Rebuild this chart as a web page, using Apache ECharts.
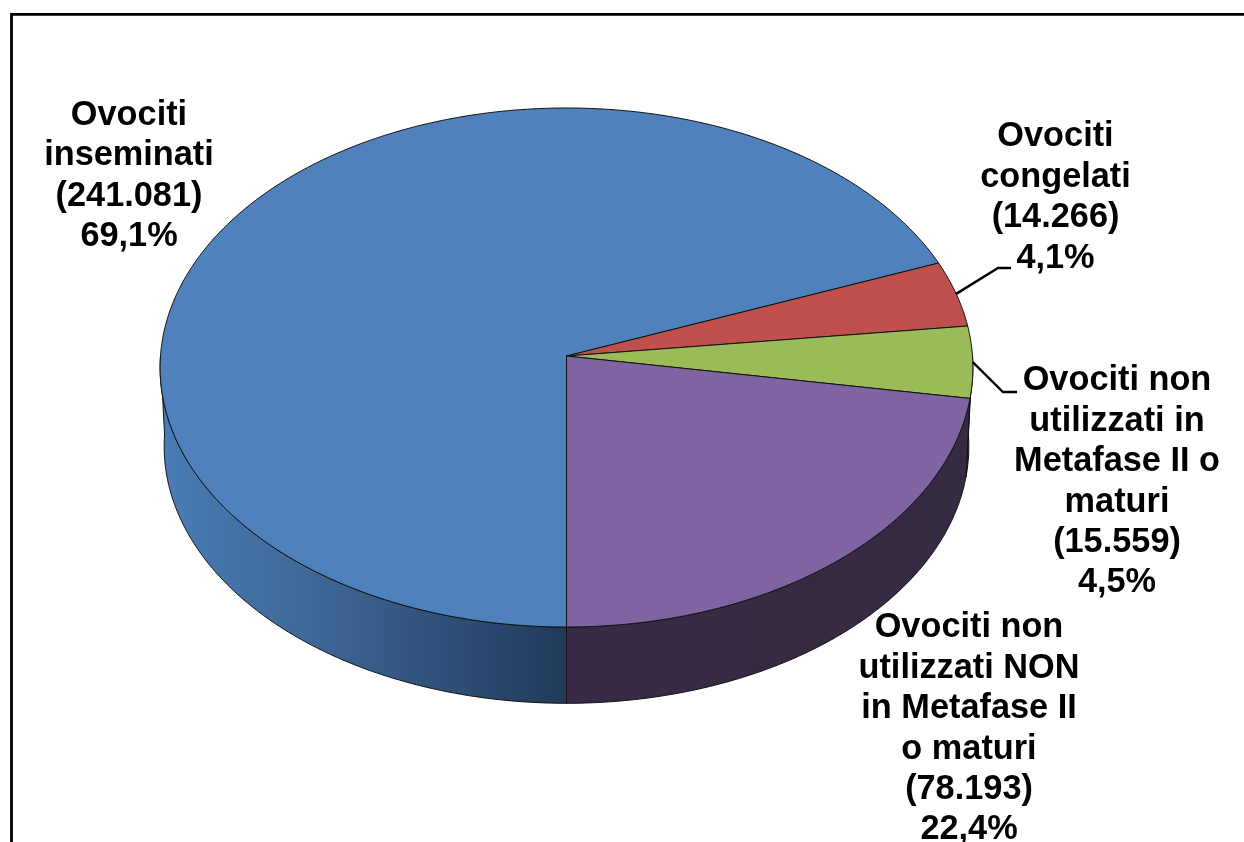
<!DOCTYPE html>
<html>
<head>
<meta charset="utf-8">
<style>html,body{margin:0;padding:0;background:#fff;overflow:hidden}#c{width:1244px;height:842px;filter:blur(0.45px)}</style>
<script src="https://cdn.jsdelivr.net/npm/echarts@6/dist/echarts.min.js"></script>
</head>
<body>
<div id="c"></div>
<script>
var categories = [
  "Ovociti\ninseminati",
  "Ovociti\ncongelati",
  "Ovociti non\nutilizzati in\nMetafase II o\nmaturi",
  "Ovociti non\nutilizzati NON\nin Metafase II\no maturi"
];
var oocytes = [241081, 14266, 15559, 78193];
var faceColors = ["#4F81BD", "#C0504D", "#9BBB59", "#8064A2"];

// tilted-disc projection of the pie
var CX = 566.5, CY = 356, RX = 406, RY = 259, PERSP = -0.0443;
var DEPTH = 79, BOTTOM_SCALE = 0.99, START_DEG = 180;
// label anchors: centre x, centre y of first line; optional leader elbow
var labelCentres = [[129, 115.5], [1055.5, 137], [1117, 381], [969, 628]];
var leaderElbows = [null, [[998, 268], [1011, 268]], [[1003, 392], [1017, 392]], null];
var FONT = 'bold 34.3px "Liberation Sans", Arial, sans-serif', LINE_H = 40.4;

var total = oocytes.reduce(function (a, b) { return a + b; }, 0);
var running = 0;
var rows = oocytes.map(function (v, i) {
  var r = [v, running, running + v, i];
  running += v;
  return r;
});

function project(deg, scale, dy) {
  var t = deg * Math.PI / 180, X = Math.sin(t), Y = -Math.cos(t), w = 1 + PERSP * Y;
  return [CX + scale * RX * X / w, CY + dy + scale * RY * Y / w];
}
function arc(a0, a1, scale, dy) {
  var n = Math.max(2, Math.ceil(Math.abs(a1 - a0) * 2)), pts = [];
  for (var i = 0; i <= n; i++) pts.push(project(a0 + (a1 - a0) * i / n, scale, dy));
  return pts;
}
function toDeg(cum) { return START_DEG + cum / total * 360; }
function fmtCount(v) { return String(v).replace(/\B(?=(\d{3})+$)/g, "."); }
function fmtPct(v) { return (v / total * 100).toFixed(1).replace(".", ",") + "%"; }

var wallFills = [
  { type: "linear", x: 160, y: 0, x2: 566, y2: 0, global: true, colorStops: [
    { offset: 0, color: "#4A7DB6" }, { offset: 0.35, color: "#40699A" },
    { offset: 0.7, color: "#2F5078" }, { offset: 1, color: "#213A5A" }] },
  "#3A3040", "#3A3040",
  { type: "linear", x: 566, y: 0, x2: 970, y2: 0, global: true, colorStops: [
    { offset: 0, color: "#382A45" }, { offset: 1, color: "#352B42" }] }
];
var EDGE = "#111";

// Only the front half of the rim shows: clip each slice's wall to it.
function visibleWall(a0, a1) {
  var ranges = [[90, 270], [450, 630]];
  for (var r = 0; r < ranges.length; r++) {
    var lo = Math.max(a0, ranges[r][0]), hi = Math.min(a1, ranges[r][1]);
    if (hi > lo) return [lo, hi];
  }
  return null;
}
function renderWall(params, api) {
  var i = api.value(3), range = visibleWall(toDeg(api.value(1)), toDeg(api.value(2)));
  if (!range) return null;
  var pts = arc(range[0], range[1], 1, 0).concat(arc(range[1], range[0], BOTTOM_SCALE, DEPTH));
  return { type: "polygon", shape: { points: pts },
    style: { fill: wallFills[i], stroke: EDGE, lineWidth: 1, lineJoin: "round" } };
}
function renderFace(params, api) {
  var a0 = toDeg(api.value(1)), a1 = toDeg(api.value(2)), i = api.value(3);
  var pts = [[CX, CY]].concat(arc(a0, a1, 1, 0));
  return { type: "polygon", shape: { points: pts },
    style: { fill: faceColors[i], stroke: EDGE, lineWidth: 1, lineJoin: "round" } };
}
function renderLabel(params, api) {
  var v = api.value(0), i = api.value(3), kids = [];
  var mid = (toDeg(api.value(1)) + toDeg(api.value(2))) / 2;
  var lines = categories[i].split("\n").concat(["(" + fmtCount(v) + ")", fmtPct(v)]);
  var c = labelCentres[i];
  lines.forEach(function (t, k) {
    kids.push({ type: "text", style: { x: c[0], y: c[1] + k * LINE_H, text: t, font: FONT,
      fill: "#000", align: "center", verticalAlign: "middle" } });
  });
  if (leaderElbows[i]) {
    kids.push({ type: "polyline", shape: { points: [project(mid, 1, 0)].concat(leaderElbows[i]) },
      style: { fill: "none", stroke: "#000", lineWidth: 2.4 } });
  }
  return { type: "group", children: kids };
}

var chart = echarts.init(document.getElementById("c"), null, { renderer: "canvas" });
chart.setOption({
  animation: false,
  backgroundColor: "#fff",
  graphic: [{ type: "polyline", z: 0, silent: true,
    shape: { points: [[11.5, 842], [11.5, 14.3], [1244, 14.3]] },
    style: { fill: "none", stroke: "#000", lineWidth: 2.8 } }],
  series: [
    { type: "custom", coordinateSystem: "none", z: 2, silent: true, data: rows, renderItem: renderWall },
    { type: "custom", coordinateSystem: "none", z: 3, silent: true, data: rows, renderItem: renderFace },
    { type: "custom", coordinateSystem: "none", z: 4, silent: true, data: rows, renderItem: renderLabel }
  ]
});
</script>
</body>
</html>
